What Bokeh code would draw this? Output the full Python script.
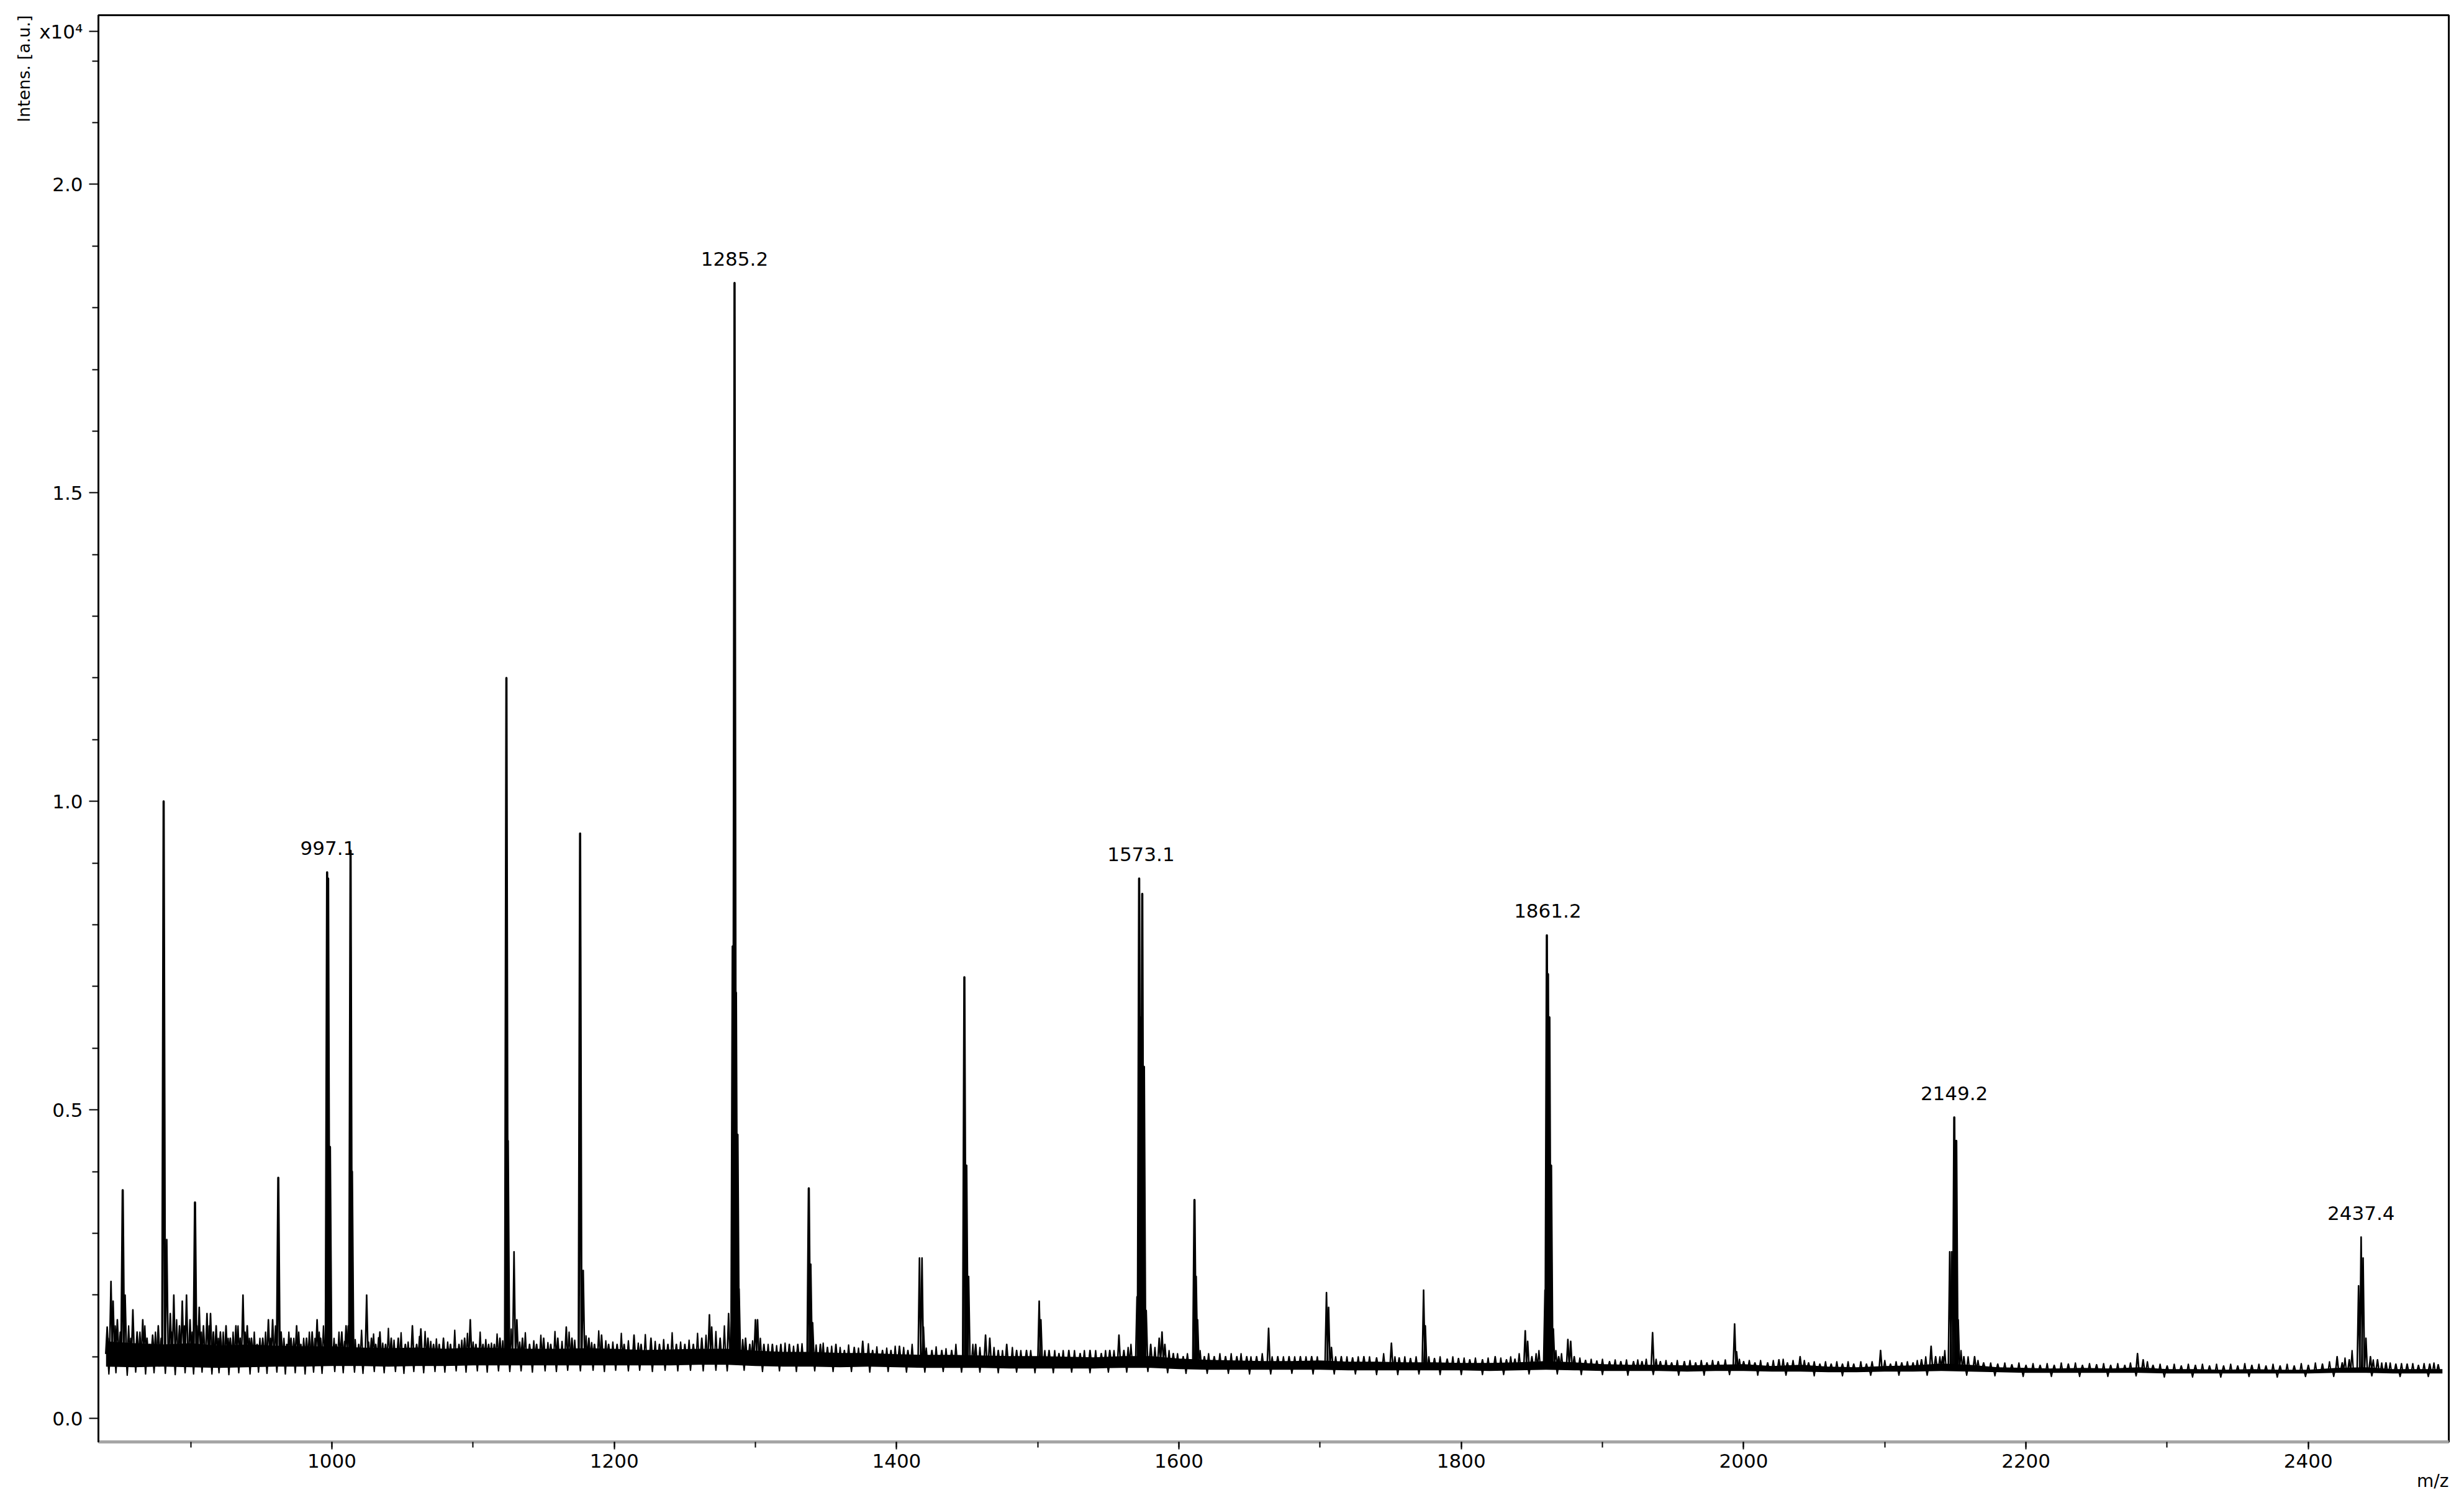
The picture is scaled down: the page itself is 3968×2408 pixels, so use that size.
import numpy as np
from bokeh.plotting import figure
from bokeh.models import ColumnDataSource, LabelSet, Range1d, PrintfTickFormatter, SingleIntervalTicker, FixedTicker, Title
from bokeh.core.properties import value
from bokeh.embed import file_html
from bokeh.resources import INLINE

# ---------------- data (intensity in units of 1e4 a.u.) ----------------
noise_mz = [840, 860, 880, 900, 920, 940, 960, 980, 1000, 1020,
            1040, 1060, 1080, 1100, 1120, 1140, 1160, 1180, 1200, 1220,
            1240, 1260, 1280, 1300, 1320, 1340, 1360, 1380, 1400, 1420,
            1440, 1460, 1480, 1500, 1520, 1540, 1560, 1580, 1600, 1620,
            1640, 1660, 1680, 1700, 1720, 1740, 1760, 1780, 1800, 1820,
            1840, 1860, 1880, 1900, 1920, 1940, 1960, 1980, 2000, 2020,
            2040, 2060, 2080, 2100, 2120, 2140, 2160, 2180, 2200, 2220,
            2240, 2260, 2280, 2300, 2320, 2340, 2360, 2380, 2400, 2420,
            2440, 2460, 2480, 2495]
noise_lo = [0.084, 0.083, 0.084, 0.083, 0.082, 0.083, 0.084, 0.084, 0.085, 0.085,
            0.084, 0.085, 0.085, 0.086, 0.086, 0.086, 0.086, 0.086, 0.086, 0.086,
            0.086, 0.087, 0.087, 0.085, 0.084, 0.084, 0.083, 0.084, 0.083, 0.082,
            0.082, 0.082, 0.081, 0.081, 0.081, 0.081, 0.082, 0.082, 0.080, 0.079,
            0.079, 0.079, 0.079, 0.079, 0.078, 0.078, 0.078, 0.078, 0.078, 0.077,
            0.078, 0.079, 0.078, 0.077, 0.077, 0.077, 0.076, 0.077, 0.077, 0.076,
            0.076, 0.075, 0.075, 0.076, 0.076, 0.077, 0.076, 0.075, 0.074, 0.074,
            0.074, 0.074, 0.074, 0.073, 0.073, 0.073, 0.073, 0.073, 0.073, 0.074,
            0.074, 0.073, 0.073, 0.073]
noise_hi = [0.125, 0.122, 0.120, 0.122, 0.118, 0.120, 0.118, 0.117, 0.117, 0.115,
            0.114, 0.115, 0.113, 0.115, 0.114, 0.113, 0.113, 0.114, 0.113, 0.111,
            0.112, 0.113, 0.113, 0.110, 0.108, 0.108, 0.106, 0.106, 0.104, 0.103,
            0.103, 0.102, 0.101, 0.101, 0.100, 0.099, 0.101, 0.101, 0.097, 0.095,
            0.094, 0.093, 0.093, 0.094, 0.092, 0.092, 0.091, 0.091, 0.090, 0.090,
            0.091, 0.093, 0.091, 0.088, 0.087, 0.087, 0.086, 0.087, 0.088, 0.085,
            0.087, 0.084, 0.083, 0.085, 0.086, 0.089, 0.087, 0.083, 0.082, 0.081,
            0.082, 0.081, 0.083, 0.080, 0.080, 0.079, 0.080, 0.079, 0.079, 0.082,
            0.083, 0.080, 0.080, 0.080]

peak_mz = [840.8, 843.5, 845.0, 848.0, 851.8, 853.5, 859.0, 862.0, 866.0, 869.0,
           873.0, 877.0, 880.8, 883.0, 885.5, 888.0, 892.0, 894.0, 897.0, 899.5,
           903.0, 906.0, 909.0, 911.5, 914.0, 916.0, 918.0, 921.0, 925.0, 928.0,
           932.0, 935.0, 937.0, 940.0, 943.0, 947.0, 951.0, 955.0, 958.0, 962.0,
           964.0, 968.0, 971.0, 975.0, 978.0, 982.0, 986.0, 989.5, 992.0, 996.6,
           997.3, 998.6, 1003.0, 1007.0, 1010.0, 1013.2, 1014.2, 1019.0, 1024.6, 1028.0,
           1031.0, 1034.0, 1038.0, 1042.0, 1047.0, 1052.0, 1057.0, 1060.0, 1063.0, 1068.0,
           1072.0, 1076.0, 1079.0, 1084.0, 1090.0, 1094.0, 1098.0, 1102.0, 1107.0, 1111.0,
           1115.0, 1119.0, 1123.6, 1124.6, 1129.0, 1131.0, 1135.0, 1140.0, 1145.0, 1150.0,
           1155.0, 1160.0, 1166.0, 1170.0, 1175.8, 1178.0, 1182.0, 1186.0, 1191.0, 1196.0,
           1202.0, 1207.0, 1214.0, 1219.0, 1226.0, 1232.0, 1238.0, 1244.0, 1250.0, 1256.0,
           1262.0, 1267.4, 1269.0, 1275.0, 1281.0, 1283.9, 1285.2, 1286.2, 1287.3, 1288.4,
           1293.0, 1296.0, 1300.0, 1301.5, 1306.0, 1312.0, 1318.0, 1324.0, 1330.0, 1337.8,
           1339.2, 1340.5, 1346.0, 1351.0, 1357.0, 1363.0, 1370.0, 1376.0, 1383.0, 1390.0,
           1396.0, 1402.0, 1408.0, 1416.2, 1418.0, 1419.0, 1425.0, 1432.0, 1439.0, 1448.0,
           1449.4, 1451.0, 1456.0, 1463.0, 1466.0, 1472.0, 1478.0, 1485.0, 1492.0, 1501.0,
           1502.2, 1508.0, 1515.0, 1522.0, 1530.0, 1537.0, 1545.0, 1551.0, 1557.5, 1561.0,
           1570.3, 1571.8, 1572.6, 1574.0, 1575.2, 1576.8, 1580.0, 1586.0, 1588.0, 1590.0,
           1596.0, 1603.0, 1611.0, 1612.2, 1613.2, 1618.0, 1625.0, 1633.0, 1641.0, 1648.0,
           1655.0, 1663.5, 1670.0, 1678.0, 1686.0, 1694.0, 1704.5, 1706.0, 1708.0, 1715.0,
           1723.0, 1731.0, 1740.0, 1750.5, 1756.0, 1764.0, 1773.3, 1774.5, 1781.0, 1790.0,
           1798.0, 1806.0, 1815.0, 1824.0, 1832.0, 1838.0, 1845.3, 1847.0, 1850.0, 1859.3,
           1860.6, 1861.4, 1862.4, 1863.6, 1865.2, 1869.0, 1875.5, 1877.5, 1880.0, 1888.0,
           1896.0, 1905.0, 1913.0, 1922.0, 1928.0, 1935.5, 1941.0, 1949.0, 1958.0, 1966.0,
           1974.0, 1982.0, 1993.6, 1995.0, 2000.0, 2008.0, 2017.0, 2025.0, 2031.0, 2040.0,
           2046.0, 2054.0, 2062.0, 2070.0, 2078.0, 2087.0, 2097.0, 2104.0, 2112.0, 2120.0,
           2126.0, 2132.8, 2136.0, 2141.0, 2146.0, 2147.4, 2149.2, 2150.6, 2152.0, 2156.0,
           2163.6, 2170.0, 2180.0, 2190.0, 2200.0, 2210.0, 2220.0, 2230.0, 2240.0, 2250.0,
           2260.0, 2270.0, 2279.0, 2283.0, 2290.0, 2300.0, 2310.0, 2320.0, 2330.0, 2340.0,
           2350.0, 2360.0, 2370.0, 2380.0, 2390.0, 2400.0, 2410.0, 2420.4, 2424.0, 2429.0,
           2435.6, 2437.4, 2438.8, 2440.8, 2444.0, 2449.0, 2455.0, 2462.0, 2470.0, 2478.0,
           2486.0, 2492.0]
peak_int = [0.148, 0.222, 0.190, 0.160, 0.370, 0.200, 0.176, 0.140, 0.160, 0.130,
            0.135, 0.150, 1.000, 0.290, 0.170, 0.200, 0.150, 0.190, 0.200, 0.160,
            0.350, 0.180, 0.150, 0.170, 0.170, 0.140, 0.150, 0.140, 0.150, 0.130,
            0.150, 0.130, 0.200, 0.150, 0.130, 0.120, 0.130, 0.160, 0.160, 0.390,
            0.140, 0.120, 0.130, 0.150, 0.120, 0.130, 0.140, 0.160, 0.130, 0.885,
            0.875, 0.440, 0.120, 0.140, 0.150, 0.920, 0.400, 0.120, 0.200, 0.130,
            0.120, 0.140, 0.120, 0.130, 0.130, 0.120, 0.150, 0.120, 0.145, 0.130,
            0.120, 0.120, 0.130, 0.120, 0.120, 0.130, 0.160, 0.120, 0.120, 0.120,
            0.120, 0.130, 1.200, 0.450, 0.270, 0.160, 0.130, 0.120, 0.120, 0.130,
            0.120, 0.130, 0.148, 0.130, 0.948, 0.240, 0.130, 0.120, 0.135, 0.120,
            0.120, 0.120, 0.135, 0.120, 0.130, 0.120, 0.120, 0.120, 0.120, 0.120,
            0.130, 0.168, 0.148, 0.130, 0.170, 0.765, 1.840, 0.690, 0.460, 0.210,
            0.130, 0.120, 0.160, 0.160, 0.120, 0.120, 0.120, 0.120, 0.120, 0.373,
            0.250, 0.155, 0.120, 0.115, 0.120, 0.110, 0.115, 0.125, 0.110, 0.110,
            0.110, 0.117, 0.110, 0.260, 0.260, 0.148, 0.110, 0.110, 0.110, 0.715,
            0.410, 0.230, 0.120, 0.135, 0.130, 0.110, 0.120, 0.110, 0.110, 0.190,
            0.160, 0.110, 0.105, 0.110, 0.105, 0.110, 0.105, 0.110, 0.135, 0.110,
            0.197, 0.875, 0.650, 0.850, 0.570, 0.175, 0.120, 0.130, 0.140, 0.120,
            0.105, 0.100, 0.354, 0.230, 0.160, 0.100, 0.100, 0.100, 0.100, 0.100,
            0.100, 0.146, 0.100, 0.100, 0.100, 0.100, 0.204, 0.180, 0.115, 0.100,
            0.098, 0.100, 0.098, 0.122, 0.098, 0.097, 0.208, 0.150, 0.097, 0.096,
            0.097, 0.095, 0.095, 0.100, 0.095, 0.096, 0.142, 0.125, 0.100, 0.208,
            0.783, 0.720, 0.650, 0.410, 0.145, 0.100, 0.128, 0.125, 0.100, 0.094,
            0.093, 0.092, 0.092, 0.092, 0.092, 0.139, 0.092, 0.090, 0.092, 0.090,
            0.090, 0.092, 0.153, 0.108, 0.092, 0.090, 0.090, 0.095, 0.090, 0.100,
            0.090, 0.088, 0.088, 0.088, 0.088, 0.088, 0.110, 0.088, 0.090, 0.090,
            0.095, 0.117, 0.100, 0.100, 0.270, 0.270, 0.488, 0.450, 0.160, 0.100,
            0.100, 0.090, 0.088, 0.087, 0.086, 0.086, 0.086, 0.088, 0.086, 0.087,
            0.086, 0.086, 0.105, 0.095, 0.086, 0.085, 0.085, 0.086, 0.085, 0.085,
            0.085, 0.086, 0.085, 0.085, 0.085, 0.086, 0.088, 0.100, 0.090, 0.095,
            0.215, 0.294, 0.260, 0.130, 0.100, 0.095, 0.090, 0.088, 0.088, 0.086,
            0.088, 0.087]

# small upward noise hairs
ripple_mz = [841.5, 846.5, 850.0, 856.0, 857.5, 864.0, 867.5, 871.0, 875.0, 879.0,
             886.5, 890.0, 895.5, 901.0, 904.5, 907.5, 913.0, 919.5, 923.0, 926.5,
             930.0, 933.5, 938.5, 941.5, 945.0, 949.0, 953.0, 956.5, 960.0, 966.0,
             969.5, 973.0, 976.5, 980.0, 984.0, 988.0, 991.0, 994.0, 1001.5, 1005.0,
             1009.0, 1011.5, 1016.5, 1021.0, 1026.0, 1029.5, 1033.0, 1036.0, 1040.0, 1044.0,
             1049.0, 1054.0, 1062.0, 1066.0, 1070.0, 1074.0, 1082.0, 1087.0, 1092.0, 1096.0,
             1100.0, 1105.0, 1109.0, 1113.0, 1117.0, 1121.0, 1127.0, 1133.0, 1137.0, 1143.0,
             1148.0, 1153.0, 1158.0, 1163.0, 1168.0, 1172.0, 1180.0, 1184.0, 1189.0, 1194.0,
             1199.0, 1205.0, 1210.0, 1217.0, 1222.0, 1229.0, 1235.0, 1241.0, 1247.0, 1253.0,
             1259.0, 1265.0, 1272.0, 1278.0, 1291.0, 1298.0, 1303.5, 1309.0, 1315.0, 1321.0,
             1327.0, 1333.0, 1343.0, 1348.0, 1354.0, 1360.0, 1366.0, 1373.0, 1380.0, 1386.0,
             1393.0, 1399.0, 1405.0, 1411.0, 1421.0, 1428.0, 1435.0, 1442.0, 1454.0, 1459.0,
             1469.0, 1475.0, 1482.0, 1488.0, 1495.0, 1505.0, 1512.0, 1518.0, 1526.0, 1533.0,
             1541.0, 1548.0, 1554.0, 1564.0, 1566.0, 1583.0, 1593.0, 1599.0, 1606.0, 1615.0,
             1621.0, 1629.0, 1637.0, 1644.0, 1651.0, 1659.0, 1666.0, 1674.0, 1682.0, 1690.0,
             1698.0, 1711.0, 1719.0, 1727.0, 1735.0, 1745.0, 1753.0, 1760.0, 1768.0, 1777.0,
             1785.0, 1794.0, 1802.0, 1810.0, 1819.0, 1828.0, 1835.0, 1841.0, 1853.0, 1855.0,
             1867.0, 1871.0, 1884.0, 1892.0, 1900.0, 1909.0, 1917.0, 1925.0, 1931.0, 1938.0,
             1945.0, 1953.0, 1962.0, 1970.0, 1978.0, 1987.0, 1997.0, 2004.0, 2012.0, 2021.0,
             2028.0, 2035.0, 2043.0, 2050.0, 2058.0, 2066.0, 2074.0, 2083.0, 2091.0, 2100.0,
             2108.0, 2116.0, 2123.0, 2129.0, 2139.0, 2142.5, 2154.0, 2159.0, 2166.0, 2175.0,
             2185.0, 2195.0, 2205.0, 2215.0, 2225.0, 2235.0, 2245.0, 2255.0, 2265.0, 2274.0,
             2286.0, 2295.0, 2305.0, 2315.0, 2325.0, 2335.0, 2345.0, 2355.0, 2365.0, 2375.0,
             2385.0, 2395.0, 2405.0, 2415.0, 2426.0, 2431.0, 2446.0, 2452.0, 2458.0, 2466.0,
             2474.0, 2482.0, 2489.0]
ripple_int = [0.130, 0.150, 0.140, 0.150, 0.130, 0.140, 0.150, 0.120, 0.140, 0.130,
              0.140, 0.160, 0.150, 0.140, 0.150, 0.140, 0.150, 0.130, 0.140, 0.130,
              0.140, 0.150, 0.140, 0.130, 0.140, 0.130, 0.140, 0.130, 0.150, 0.130,
              0.140, 0.130, 0.140, 0.130, 0.140, 0.130, 0.140, 0.150, 0.130, 0.140,
              0.125, 0.150, 0.128, 0.143, 0.124, 0.137, 0.131, 0.122, 0.146, 0.127,
              0.139, 0.124, 0.133, 0.141, 0.125, 0.129, 0.124, 0.143, 0.127, 0.138,
              0.124, 0.140, 0.128, 0.122, 0.137, 0.126, 0.145, 0.124, 0.139, 0.126,
              0.135, 0.123, 0.141, 0.125, 0.140, 0.127, 0.134, 0.123, 0.142, 0.126,
              0.124, 0.138, 0.126, 0.122, 0.136, 0.125, 0.128, 0.139, 0.124, 0.127,
              0.138, 0.135, 0.141, 0.150, 0.128, 0.126, 0.130, 0.120, 0.118, 0.122,
              0.117, 0.121, 0.119, 0.122, 0.117, 0.115, 0.119, 0.114, 0.121, 0.116,
              0.114, 0.117, 0.115, 0.120, 0.114, 0.116, 0.113, 0.120, 0.120, 0.115,
              0.115, 0.110, 0.115, 0.110, 0.110, 0.110, 0.110, 0.110, 0.110, 0.110,
              0.110, 0.110, 0.110, 0.115, 0.120, 0.115, 0.110, 0.105, 0.105, 0.110,
              0.105, 0.105, 0.105, 0.105, 0.100, 0.105, 0.100, 0.100, 0.100, 0.100,
              0.100, 0.100, 0.100, 0.100, 0.100, 0.105, 0.100, 0.100, 0.100, 0.100,
              0.100, 0.100, 0.098, 0.098, 0.098, 0.098, 0.100, 0.105, 0.105, 0.110,
              0.110, 0.105, 0.098, 0.096, 0.096, 0.095, 0.095, 0.095, 0.096, 0.096,
              0.094, 0.094, 0.094, 0.094, 0.094, 0.095, 0.096, 0.094, 0.094, 0.094,
              0.096, 0.094, 0.094, 0.092, 0.092, 0.092, 0.092, 0.092, 0.092, 0.094,
              0.092, 0.092, 0.094, 0.100, 0.100, 0.110, 0.110, 0.100, 0.094, 0.090,
              0.090, 0.090, 0.089, 0.089, 0.090, 0.090, 0.089, 0.089, 0.089, 0.090,
              0.092, 0.088, 0.088, 0.088, 0.088, 0.088, 0.088, 0.089, 0.088, 0.088,
              0.088, 0.089, 0.090, 0.092, 0.098, 0.110, 0.095, 0.090, 0.090, 0.089,
              0.089, 0.089, 0.090]

# small downward noise hairs
dip_mz = [842, 847, 855, 861, 868, 874, 882, 889, 896, 902,
          908, 915, 920, 927, 934, 942, 948, 954, 961, 967,
          974, 981, 987, 993, 1002, 1008, 1016, 1022, 1030, 1037,
          1045, 1051, 1058, 1065, 1073, 1080, 1088, 1095, 1103, 1110,
          1118, 1126, 1134, 1142, 1151, 1159, 1167, 1176, 1185, 1193,
          1201, 1210, 1218, 1227, 1236, 1245, 1254, 1263, 1272, 1280,
          1292, 1305, 1317, 1329, 1342, 1355, 1368, 1381, 1394, 1407,
          1420, 1433, 1446, 1459, 1472, 1485, 1498, 1511, 1524, 1537,
          1550, 1563, 1578, 1592, 1605, 1620, 1635, 1650, 1665, 1680,
          1695, 1710, 1725, 1740, 1755, 1770, 1785, 1800, 1815, 1830,
          1848, 1868, 1885, 1900, 1918, 1936, 1954, 1972, 1990, 2010,
          2030, 2050, 2070, 2090, 2110, 2130, 2158, 2178, 2198, 2218,
          2238, 2258, 2278, 2298, 2318, 2338, 2358, 2378, 2398, 2418,
          2445, 2465, 2485]
dip_int = [0.072, 0.074, 0.070, 0.075, 0.072, 0.074, 0.073, 0.071, 0.074, 0.072,
           0.075, 0.072, 0.074, 0.071, 0.074, 0.072, 0.075, 0.073, 0.075, 0.072,
           0.074, 0.072, 0.075, 0.073, 0.076, 0.074, 0.075, 0.073, 0.076, 0.074,
           0.076, 0.073, 0.076, 0.074, 0.076, 0.075, 0.077, 0.075, 0.077, 0.075,
           0.077, 0.076, 0.077, 0.075, 0.077, 0.076, 0.078, 0.077, 0.078, 0.076,
           0.078, 0.077, 0.078, 0.076, 0.078, 0.077, 0.078, 0.077, 0.078, 0.077,
           0.078, 0.076, 0.077, 0.076, 0.077, 0.076, 0.076, 0.075, 0.076, 0.075,
           0.075, 0.076, 0.075, 0.075, 0.074, 0.075, 0.074, 0.074, 0.075, 0.074,
           0.075, 0.075, 0.076, 0.074, 0.073, 0.073, 0.073, 0.072, 0.072, 0.073,
           0.072, 0.072, 0.072, 0.071, 0.071, 0.072, 0.071, 0.071, 0.071, 0.071,
           0.072, 0.072, 0.071, 0.071, 0.070, 0.071, 0.070, 0.070, 0.071, 0.070,
           0.070, 0.069, 0.069, 0.070, 0.070, 0.070, 0.070, 0.069, 0.068, 0.068,
           0.068, 0.068, 0.069, 0.067, 0.067, 0.067, 0.068, 0.067, 0.068, 0.068,
           0.069, 0.068, 0.068]

label_mz = [997.1, 1285.2, 1573.1, 1861.2, 2149.2, 2437.4]
label_int = [0.885, 1.840, 0.875, 0.783, 0.488, 0.294]
label_text = ["997.1", "1285.2", "1573.1", "1861.2", "2149.2", "2437.4"]

# intensity axis ticks; the scale multiplier sits at the top of the axis
y_major = [0.0, 0.5, 1.0, 1.5, 2.0]
y_minor = [0.1, 0.2, 0.3, 0.4, 0.6, 0.7, 0.8, 0.9, 1.1, 1.2, 1.3, 1.4,
           1.6, 1.7, 1.8, 1.9, 2.1, 2.2]
y_mult_pos = 2.2475
y_mult_text = "x10\u2074"

# ---------------- figure ----------------
FONT = "DejaVu Sans"
X0, X1 = 834.6, 2499.5
p = figure(width=3958, height=2408, title=None,
           x_range=Range1d(X0, X1), y_range=Range1d(-0.038, 2.274),
           output_backend="svg", toolbar_location=None,
           min_border_left=158, min_border_right=15, min_border_top=24, min_border_bottom=86)
p.grid.visible = False
p.background_fill_color = "white"
p.border_fill_color = "white"
p.outline_line_color = "black"
p.outline_line_width = 3

# baseline noise band
p.varea(x=noise_mz, y1=noise_lo, y2=noise_hi, fill_color="black")

mz_arr = np.array(noise_mz, dtype=float)
mid = (np.array(noise_lo) + np.array(noise_hi)) / 2.0


def triangles(mzs, heights, w):
    xs, ys = [], []
    for m, h in zip(mzs, heights):
        b = mid[int(np.abs(mz_arr - m).argmin())]
        xs.append([m - w, m, m + w])
        ys.append([b, h, b])
    return xs, ys


xs, ys = triangles(ripple_mz, ripple_int, 0.9)
p.multi_line(xs=xs, ys=ys, line_color="black", line_width=2.2, line_join="round")
xs, ys = triangles(dip_mz, dip_int, 0.9)
p.multi_line(xs=xs, ys=ys, line_color="black", line_width=2.2, line_join="round")

pm = np.array(peak_mz)
ph = np.array(peak_int)
big = ph >= 0.3
xs, ys = triangles(pm[~big], ph[~big], 1.0)
p.multi_line(xs=xs, ys=ys, line_color="black", line_width=2.6, line_join="round")
xs, ys = triangles(pm[big], ph[big], 1.0)
p.multi_line(xs=xs, ys=ys, line_color="black", line_width=3.6, line_join="round")

# peak labels
lsrc = ColumnDataSource(dict(x=label_mz, y=label_int, t=label_text))
p.add_layout(LabelSet(x="x", y="y", text="t", source=lsrc, text_align="center",
                      text_baseline="bottom", y_offset=28, text_font=value(FONT),
                      text_font_size=value("31px"), text_color="black"))

# axes
xa = p.xaxis[0]
xa.ticker = SingleIntervalTicker(interval=200, num_minor_ticks=2)
xa.axis_line_color = "#a6a6a6"
xa.axis_line_width = 5
xa.major_tick_line_color = "black"
xa.minor_tick_line_color = "black"
xa.major_tick_line_width = 2
xa.minor_tick_line_width = 2
xa.major_tick_in = 0
xa.major_tick_out = 12
xa.minor_tick_in = 0
xa.minor_tick_out = 9
xa.major_label_standoff = 7
xa.major_label_text_font = FONT
xa.major_label_text_font_size = "31px"
xa.major_label_text_color = "black"

ya = p.yaxis[0]
ya.ticker = FixedTicker(ticks=y_major + [y_mult_pos], minor_ticks=y_minor)
ya.formatter = PrintfTickFormatter(format="%.1f")
ya.major_label_overrides = {y_mult_pos: y_mult_text}
ya.axis_line_color = "black"
ya.axis_line_width = 3
ya.major_tick_line_color = "black"
ya.minor_tick_line_color = "black"
ya.major_tick_line_width = 2
ya.minor_tick_line_width = 2
ya.major_tick_in = 0
ya.major_tick_out = 15
ya.minor_tick_in = 0
ya.minor_tick_out = 10
ya.major_label_standoff = 10
ya.major_label_text_font = FONT
ya.major_label_text_font_size = "31px"
ya.major_label_text_color = "black"

# axis titles as side-panel titles, aligned to the far end of each axis
t_y = Title(text="Intens. [a.u.]", align="right", text_font=FONT, text_font_size="27px",
            text_font_style="normal", text_color="black")
t_x = Title(text="m/z", align="right", text_font=FONT, text_font_size="28px",
            text_font_style="normal", text_color="black")
try:
    t_y.standoff = 14
    t_x.standoff = 0
except Exception:
    pass
p.add_layout(t_y, "left")
p.add_layout(t_x, "below")

open("out.html", "w").write(file_html(p, INLINE))
